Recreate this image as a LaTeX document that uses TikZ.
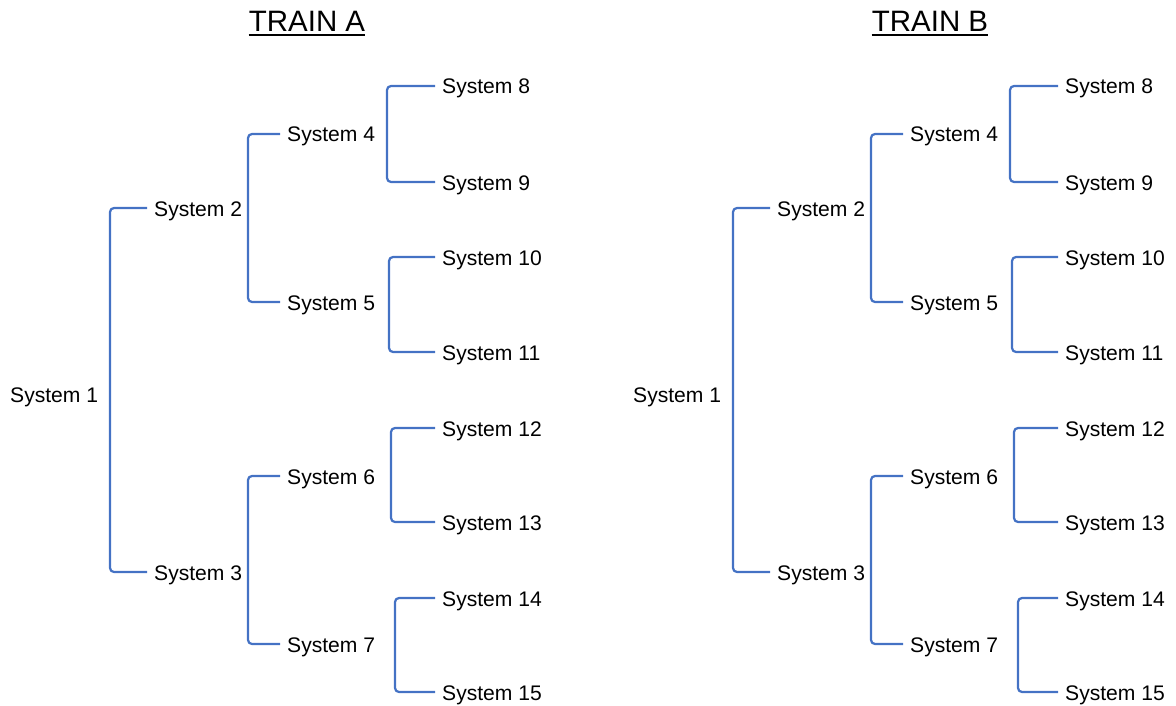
\documentclass[tikz,border=0pt]{standalone}
\usepackage{fontspec}
\setmainfont{Liberation Sans}
\definecolor{brblue}{HTML}{4472C4}
\tikzset{
  sys/.style={anchor=west, inner sep=0pt, text height=20.4pt, text depth=4.4pt, font=\fontsize{21.1}{24}\selectfont},
  ttl/.style={anchor=base, inner sep=0pt, font=\fontsize{29.5}{34}\selectfont},
  br/.style={draw=brblue, line width=2.2pt, rounded corners=4pt},
  uline/.style={draw=black, line width=2pt}
}
\begin{document}
\begin{tikzpicture}[x=1pt,y=-1pt]
\useasboundingbox (0,0) rectangle (1176,706);
\foreach \p/\dx/\t in {a/0/A, b/623/B}{
  \begin{scope}[xshift=\dx]
    \node[ttl] (\p t) at (307,32) {TRAIN \t};
    \node[sys] (\p1) at (10,394.5) {System 1};
    \node[sys] (\p2) at (154,208) {System 2};
    \node[sys] (\p3) at (154,572) {System 3};
    \node[sys] (\p4) at (287,134) {System 4};
    \node[sys] (\p5) at (287,302) {System 5};
    \node[sys] (\p6) at (287,476) {System 6};
    \node[sys] (\p7) at (287,644) {System 7};
    \node[sys] (\p8) at (442,86) {System 8};
    \node[sys] (\p9) at (442,182) {System 9};
    \node[sys] (\p10) at (442,257) {System 10};
    \node[sys] (\p11) at (442,352) {System 11};
    \node[sys] (\p12) at (442,428) {System 12};
    \node[sys] (\p13) at (442,522) {System 13};
    \node[sys] (\p14) at (442,598) {System 14};
    \node[sys] (\p15) at (442,692) {System 15};
  \end{scope}
  \draw[uline] ([yshift=-3.5pt]\p t.base west) -- ([yshift=-3.5pt]\p t.base east);
  \draw[br] ([xshift=-7pt]\p2.west) -| ([xshift=-44pt]\p3.west) -- ([xshift=-7pt]\p3.west);
  \draw[br] ([xshift=-7pt]\p4.west) -| ([xshift=-39pt]\p5.west) -- ([xshift=-7pt]\p5.west);
  \draw[br] ([xshift=-7pt]\p6.west) -| ([xshift=-39pt]\p7.west) -- ([xshift=-7pt]\p7.west);
  \draw[br] ([xshift=-7pt]\p8.west) -| ([xshift=-55pt]\p9.west) -- ([xshift=-7pt]\p9.west);
  \draw[br] ([xshift=-7pt]\p10.west) -| ([xshift=-53pt]\p11.west) -- ([xshift=-7pt]\p11.west);
  \draw[br] ([xshift=-7pt]\p12.west) -| ([xshift=-51pt]\p13.west) -- ([xshift=-7pt]\p13.west);
  \draw[br] ([xshift=-7pt]\p14.west) -| ([xshift=-47pt]\p15.west) -- ([xshift=-7pt]\p15.west);
}
\end{tikzpicture}
\end{document}
